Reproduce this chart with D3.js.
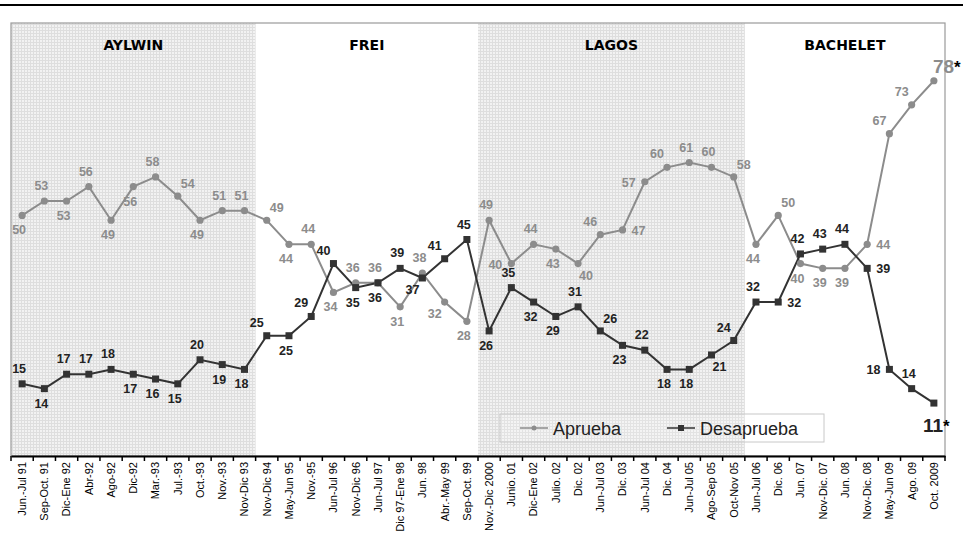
<!DOCTYPE html>
<html><head><meta charset="utf-8">
<script src="https://cdn.jsdelivr.net/npm/d3@7"></script>
<style>body{margin:0;background:#fff}svg{display:block;font-family:"Liberation Sans",Arial,sans-serif}</style>
</head><body><svg id="c" width="963" height="537"></svg>
<script>
const categories = ["Jun.-Jul 91","Sep-Oct. 91","Dic-Ene 92","Abr-92","Ago-92","Dic-92","Mar.-93","Jul.-93","Oct.-93","Nov.-93","Nov-Dic 93","Nov-Dic 94","May-Jun 95","Nov.-95","Jun-Jul 96","Nov-Dic 96","Jun-Jul 97","Dic 97-Ene 98","Jun. 98","Abr.-May 99","Sep-Oct. 99","Nov.-Dic 2000","Junio. 01","Dic-Ene 02","Julio. 02","Dic. 02","Jun-Jul 03","Dic. 03","Jun-Jul 04","Dic. 04","Jun-Jul 05","Ago-Sep 05","Oct-Nov 05","Jun-Jul 06","Dic. 06","Jun. 07","Nov-Dic. 07","Jun. 08","Nov-Dic. 08","May-Jun 09","Ago. 09","Oct. 2009"];
const aprueba = [50,53,53,56,49,56,58,54,49,51,51,49,44,44,34,36,36,31,38,32,28,49,40,44,43,40,46,47,57,60,61,60,58,44,50,40,39,39,44,67,73,78];
const desaprueba = [15,14,17,17,18,17,16,15,20,19,18,25,25,29,40,35,36,39,37,41,45,26,35,32,29,31,26,23,22,18,18,21,24,32,32,42,43,44,39,18,14,11];
const presidents = ["AYLWIN","FREI","LAGOS","BACHELET"];
const presStart = ["Jun.-Jul 91","Nov-Dic 94","Nov.-Dic 2000","Jun-Jul 06"];
const presEnd = ["Nov-Dic 93","Sep-Oct. 99","Oct-Nov 05","Oct. 2009"];
const presShaded = [true,false,true,false];
const seriesNames = ["Aprueba","Desaprueba"];
// label placement codes (style)
const aprPos = ["b","a","b","a","b","b","a","ar","b","a","a","ar","b","a","b","a","a","b","a","bl","b","a","l","a","b","br","al","r","l","al","a","a","ar","b","ar","b","b","b","r","al","al","endA"];
const desPos = ["a","b","a","a","a","b","b","b","a","b","b","al","b","al","al","b","b","a","bl","al","a","b","a","b","b","a","ar","b","a","b","b","br","al","a","r","a","a","a","r","l","a","endB"];

const svg = d3.select("#c");
const L=11,R=945,T=23,B=456;
const x = d3.scaleBand().domain(categories).range([L,R]).padding(0);
const bw = x.bandwidth();
const cx = c => x(c)+bw/2;
const y = d3.scaleLinear().domain([0,90]).range([B,T]);

// pattern
const defs = svg.append("defs");
const pat = defs.append("pattern").attr("id","grid").attr("width",3).attr("height",3).attr("patternUnits","userSpaceOnUse");
pat.append("rect").attr("width",3).attr("height",3).attr("fill","#f2f2f2");
pat.append("rect").attr("width",3).attr("height",1).attr("fill","#dedede");
pat.append("rect").attr("width",1).attr("height",3).attr("fill","#dedede");

// top rule
svg.append("line").attr("x1",0).attr("x2",963).attr("y1",5).attr("y2",5).attr("stroke","#000").attr("stroke-width",2);

// shaded bands
presidents.forEach((p,i)=>{
  const x0 = x(presStart[i]), x1 = x(presEnd[i])+bw;
  if(presShaded[i]) svg.append("rect").attr("x",x0).attr("y",T).attr("width",x1-x0).attr("height",B-T).attr("fill","url(#grid)");
  svg.append("text").attr("x",(x0+x1)/2).attr("y",50).attr("text-anchor","middle").attr("font-family","DejaVu Sans, sans-serif").attr("font-weight","bold").attr("font-size",14).attr("fill","#000").text(p);
});

// frame
svg.append("rect").attr("x",L).attr("y",T).attr("width",R-L).attr("height",B-T).attr("fill","none").attr("stroke","#9a9a9a").attr("stroke-width",1.2);

// axis
const ax = svg.append("g").attr("transform",`translate(0,${B})`).call(d3.axisBottom(x).tickSize(0).tickSizeOuter(0));
ax.select(".domain").attr("stroke","#000").attr("stroke-width",2);
ax.selectAll(".tick text").attr("transform","rotate(-90)").attr("text-anchor","end").attr("x",-6).attr("y",0).attr("dy","0.35em").attr("font-size",11).attr("font-family","Liberation Sans, Arial, sans-serif").attr("fill","#000");
const edges = categories.map(c=>x(c)).concat([R]);
svg.append("g").selectAll("line").data(edges).join("line").attr("x1",d=>d).attr("x2",d=>d).attr("y1",B).attr("y2",B+5).attr("stroke","#000").attr("stroke-width",1.5);

const line = d3.line().x((d,i)=>cx(categories[i])).y(d=>y(d));
const aprCol="#8c8c8c", desCol="#333333";
svg.append("path").datum(aprueba).attr("d",line).attr("fill","none").attr("stroke",aprCol).attr("stroke-width",2);
svg.append("path").datum(desaprueba).attr("d",line).attr("fill","none").attr("stroke",desCol).attr("stroke-width",2);
svg.append("g").selectAll("circle").data(aprueba).join("circle").attr("cx",(d,i)=>cx(categories[i])).attr("cy",d=>y(d)).attr("r",3.6).attr("fill",aprCol);
svg.append("g").selectAll("rect").data(desaprueba).join("rect").attr("x",(d,i)=>cx(categories[i])-3.5).attr("y",d=>y(d)-3.5).attr("width",7).attr("height",7).attr("fill",desCol);

const off = {a:[-3,-11],b:[-3,19],l:[-16,5],r:[16,5],al:[-10,-9],ar:[10,-8],bl:[-10,16],br:[8,16]};
const endOff = {endA:[-1,-8],endB:[-11,29]};
function labels(vals,pos,col){
  const g = svg.append("g").attr("font-weight","bold").attr("font-size",12.5).attr("fill",col).attr("text-anchor","middle");
  vals.forEach((v,i)=>{
    const px=cx(categories[i]), py=y(v);
    if(endOff[pos[i]]){
      const o=endOff[pos[i]];
      const t=svg.append("text").attr("x",px+o[0]).attr("y",py+o[1]).attr("font-weight","bold").attr("font-size",19).attr("text-anchor","start");
      t.append("tspan").attr("fill",col).text(v);
      t.append("tspan").attr("fill","#000").attr("font-size",17).text("*");
      return;
    }
    const o=off[pos[i]];
    g.append("text").attr("x",px+o[0]).attr("y",py+o[1]).text(v);
  });
}
labels(aprueba,aprPos,"#8c8c8c");
labels(desaprueba,desPos,"#222");

// legend
const lg = svg.append("g");
lg.append("rect").attr("x",500).attr("y",414).attr("width",324).attr("height",28).attr("fill","rgba(255,255,255,0.15)").attr("stroke","#c8c8c8");
const items=[{n:seriesNames[0],c:aprCol,s:"c",x:520},{n:seriesNames[1],c:desCol,s:"s",x:667}];
items.forEach(it=>{
  lg.append("line").attr("x1",it.x).attr("x2",it.x+28).attr("y1",428).attr("y2",428).attr("stroke",it.c).attr("stroke-width",1.5);
  if(it.s==="c") lg.append("circle").attr("cx",it.x+14).attr("cy",428).attr("r",2.5).attr("fill",it.c);
  else lg.append("rect").attr("x",it.x+11).attr("y",425).attr("width",6).attr("height",6).attr("fill",it.c);
  lg.append("text").attr("x",it.x+33).attr("y",435).attr("font-size",18).attr("fill","#222").text(it.n);
});
</script></body></html>
